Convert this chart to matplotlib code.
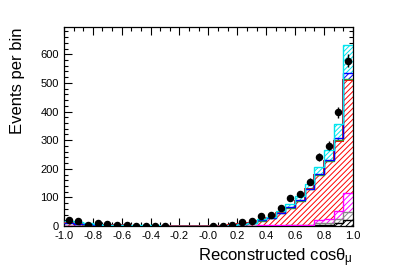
import numpy as np
import matplotlib
matplotlib.use("Agg")
import matplotlib.pyplot as plt
from matplotlib.ticker import MultipleLocator

plt.rcParams['font.family'] = ['Liberation Sans', 'DejaVu Sans']
plt.rcParams['mathtext.fontset'] = 'custom'
plt.rcParams['mathtext.rm'] = 'Liberation Sans'
plt.rcParams['mathtext.it'] = 'Liberation Sans'
plt.rcParams['mathtext.bf'] = 'Liberation Sans:bold'
plt.rcParams['hatch.linewidth'] = 0.7

# 30 bins from -1 to 1
edges = np.linspace(-1.0, 1.0, 31)

data = [21, 19, 2, 9, 6, 3, 2, 1, 1, 1, 1, np.nan, np.nan, np.nan, np.nan,
        1, 1, 3, 13, 17, 36, 40, 63, 97, 113, 155, 241, 281, 397, 578]

black = [0]*20 + [0.5, 0.5, 1, 1, 1, 1, 4, 5, 9, 21]
gray = [0]*20 + [0.5, 0.5, 0.5, 1, 1, 1, 6, 7, 15, 27]
magenta = [0]*20 + [1, 1, 1.5, 1.5, 1.5, 2, 12, 12, 28, 67]
red = [9, 8, 5, 4, 3, 2.5, 2, 1.5, 1.2, 1, 0.5, 0, 0, 0, 0,
       1, 1.5, 3, 6, 10, 17, 25, 42, 60.5, 84.5, 124, 156, 203, 246, 395]
green = [0]*20 + [0, 0, 0, 0, 0.5, 0.5, 1, 1, 2, 5]
blue = [0.5, 0.5, 0.4, 0.3, 0.2, 0.2, 0.2, 0.1, 0.1, 0.1, 0, 0, 0, 0, 0,
        0, 0, 0.2, 0.3, 0.5, 1, 1, 1, 1, 1.5, 2.5, 3, 4, 7, 19]
cyan = [7.5, 6.5, 4.6, 2.7, 1.8, 1.3, 0.8, 1.4, 0.7, 0.9, 0.5, 0, 0, 0, 0,
        0, 0.3, 0.8, 1, 1.5, 3, 4, 7, 13, 15, 14.5, 23, 33, 48, 98]

components = [
    (black, '#000000', '//////'),
    (gray, '#888888', '//////'),
    (magenta, '#ff00ff', '//////'),
    (red, '#ff0000', '//////'),
    (green, '#339933', '//////'),
    (blue, '#0000ff', '//////'),
    (cyan, '#00e5ee', '///////'),
]

fig = plt.figure(figsize=(4.07, 2.76), dpi=100)
ax = fig.add_axes([0.157, 0.181, 0.710, 0.721])

bottom = np.zeros(30)
tops = []
for vals, col, hatch in components:
    v = np.asarray(vals, dtype=float)
    top = bottom + v
    ax.stairs(top, edges, baseline=bottom.copy(), fill=True, facecolor='white',
              edgecolor=col, hatch=hatch, linewidth=0, zorder=2)
    tops.append((top.copy(), col))
    bottom = top

for top, col in tops:
    lw = 1.4 if col == '#ff0000' else 1.0
    ax.stairs(top, edges, baseline=None, color=col, linewidth=lw, zorder=3)

centers = 0.5 * (edges[:-1] + edges[1:])
d = np.asarray(data, dtype=float)
m = ~np.isnan(d)
ax.errorbar(centers[m], d[m], yerr=np.sqrt(d[m]), fmt='o', color='black',
            ms=4.4, elinewidth=1.0, capsize=0, zorder=5)

ax.set_xlim(-1.0, 1.0)
ax.set_ylim(0, 695)
ax.xaxis.set_minor_locator(MultipleLocator(0.2 / 3))
ax.yaxis.set_minor_locator(MultipleLocator(20))
ax.tick_params(which='both', direction='in', top=True, right=True,
               labelsize=8, width=0.8)
ax.tick_params(which='major', length=6)
ax.tick_params(which='minor', length=3)
xt = np.round(np.arange(-1.0, 1.01, 0.2), 1)
ax.set_xticks(xt)
ax.set_xticklabels([f"{t:.1f}" for t in xt])
ax.set_yticks(np.arange(0, 700, 100))
ax.set_yticklabels(['0', '100', '200', '300', '400', '500', '600'])
for sp in ax.spines.values():
    sp.set_linewidth(0.9)

ax.set_ylabel('Events per bin', fontsize=12, loc='top', labelpad=11)
ax.set_xlabel(r'Reconstructed cos$\theta_{\mu}$', fontsize=12, loc='right', labelpad=4)

fig.savefig('out.png', dpi=100)
